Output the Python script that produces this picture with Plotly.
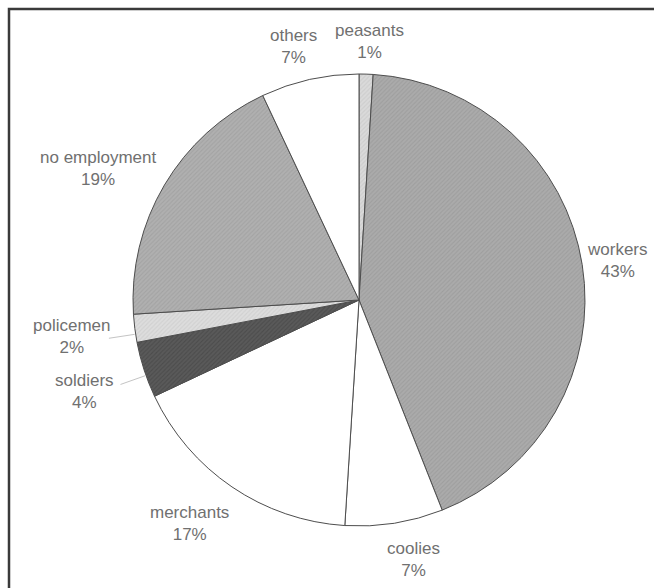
import math
import plotly.graph_objects as go

# Occupation shares (percent), clockwise from 12 o'clock
categories = ["peasants", "workers", "coolies", "merchants", "soldiers",
              "policemen", "no employment", "others"]
shares = [1, 43, 7, 17, 4, 2, 19, 7]

# Slice fills (greyscale) with a fine diagonal grain on the shaded slices
fills = ["#dadada", "#ababab", "#ffffff", "#ffffff", "#5a5a5a",
         "#dddddd", "#b0b0b0", "#ffffff"]
hatch = ["/", "/", "", "", "/", "/", "/", ""]
hatch_fg = ["#cdcdcd", "#9e9e9e", "#ffffff", "#ffffff", "#4c4c4c",
            "#d0d0d0", "#a3a3a3", "#ffffff"]

# Label placement: distance from the centre (px) and angular nudge (deg)
label_dist = [259, 261, 265, 280, 289, 289, 292, 262]
label_nudge = [0.6, 0.4, -2.8, 3.0, -0.4, 0.0, -3.8, -1.8]
leader = [False, False, False, False, True, True, False, False]

W, H = 654, 588
CX, CY, R = 359, 300, 226

fig = go.Figure(go.Pie(
    labels=categories,
    values=shares,
    sort=False,
    direction="clockwise",
    rotation=0,
    textinfo="none",
    hoverinfo="label+percent",
    marker=dict(colors=fills,
                line=dict(color="#4d4d4d", width=1),
                pattern=dict(shape=hatch, fgcolor=hatch_fg, bgcolor=fills,
                             size=3, solidity=0.35)),
    domain=dict(x=[(CX - R) / W, (CX + R) / W],
                y=[(H - CY - R) / H, (H - CY + R) / H]),
    showlegend=False,
))


def to_paper(ang_deg, r):
    a = math.radians(ang_deg)
    return (CX + r * math.sin(a)) / W, 1 - (CY - r * math.cos(a)) / H


annotations = []
shapes = []
total = sum(shares)
cum = 0
for name, v, d, nudge, lead in zip(categories, shares, label_dist, label_nudge, leader):
    mid = (cum + v / 2) / total * 360
    cum += v
    x, y = to_paper(mid + nudge, d)
    annotations.append(dict(
        x=x, y=y, xref="paper", yref="paper",
        text=f"{name}<br>{round(v / total * 100)}%", showarrow=False,
        font=dict(family="Liberation Sans, Arial, sans-serif", size=17, color="#707070"),
        xanchor="center", yanchor="middle", align="center"))
    if lead:
        x0, y0 = to_paper(mid - 1.5, R + 1)
        x1, y1 = to_paper(mid - 1.5, R + 27)
        shapes.append(dict(type="line", xref="paper", yref="paper",
                           x0=x0, y0=y0, x1=x1, y1=y1,
                           line=dict(color="#c4c4c4", width=1)))

# Frame around the chart
shapes.append(dict(type="rect", xref="paper", yref="paper",
                   x0=9 / W, y0=1 - 9 / H, x1=1.05, y1=-0.05,
                   line=dict(color="#3a3a3a", width=2.5)))

fig.update_layout(
    width=W, height=H,
    margin=dict(l=0, r=0, t=0, b=0),
    paper_bgcolor="white",
    plot_bgcolor="white",
    annotations=annotations,
    shapes=shapes,
)

fig.write_html("out.html")
